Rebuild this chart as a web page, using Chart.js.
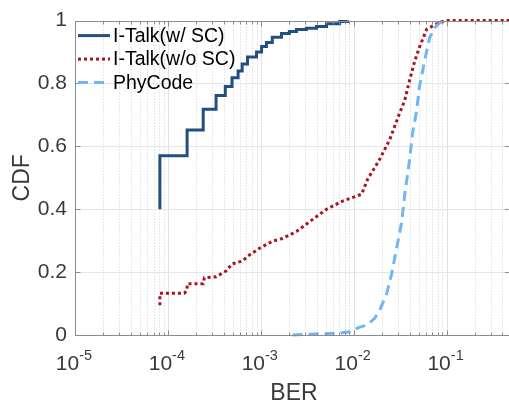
<!DOCTYPE html>
<html>
<head>
<meta charset="utf-8">
<script src="https://cdn.jsdelivr.net/npm/chart.js@4.4.1/dist/chart.umd.min.js"></script>
<style>
  html, body { margin: 0; padding: 0; background: #fff; }
</style>
</head>
<body>
<canvas id="cdfChart" width="509" height="403"></canvas>
<script>
const seriesNames = ['I-Talk(w/ SC)', 'I-Talk(w/o SC)', 'PhyCode'];

// I-Talk with SC (empirical CDF, step plot)
const berWithSC = [8.2e-5, 8.2e-5, 1.61e-4, 2.4e-4, 3.3e-4, 4.15e-4, 4.9e-4, 5.7e-4, 6.3e-4, 7.2e-4,
  9.0e-4, 1.02e-3, 1.15e-3, 1.33e-3, 1.67e-3, 2.03e-3, 2.42e-3, 3.1e-3, 3.98e-3, 5.1e-3, 7.05e-3, 8.6e-3];
const cdfWithSC = [0.40, 0.57, 0.652, 0.718, 0.762, 0.79, 0.818, 0.84, 0.862, 0.884,
  0.90, 0.918, 0.93, 0.947, 0.959, 0.965, 0.972, 0.976, 0.981, 0.99, 0.997, 1.0];

// I-Talk without SC
const berNoSC = [8.2e-5, 8.2e-5, 1.5e-4, 1.6e-4, 1.62e-4, 2.4e-4, 2.47e-4, 3.3e-4, 4.25e-4, 4.9e-4,
  6.3e-4, 7.5e-4, 9.7e-4, 1.33e-3, 1.71e-3, 2.42e-3, 3.34e-3, 5.1e-3, 7.6e-3, 1.22e-2,
  1.41e-2, 1.9e-2, 2.44e-2, 2.98e-2, 3.54e-2, 4.0e-2, 4.54e-2, 5.1e-2, 6.1e-2, 7.5e-2, 9.6e-2, 0.47];
const cdfNoSC = [0.095, 0.133, 0.133, 0.141, 0.163, 0.163, 0.182, 0.185, 0.204, 0.226,
  0.235, 0.254, 0.276, 0.298, 0.307, 0.329, 0.36, 0.40, 0.426, 0.448,
  0.495, 0.558, 0.621, 0.69, 0.746, 0.81, 0.871, 0.915, 0.972, 0.987, 1.0, 1.0];

// PhyCode
const berPhy = [2.2e-3, 3.98e-3, 7.05e-3, 9.0e-3, 1.16e-2, 1.38e-2, 1.68e-2, 1.9e-2, 2.26e-2, 2.56e-2,
  2.9e-2, 3.29e-2, 3.54e-2, 4.0e-2, 4.31e-2, 4.77e-2, 5.1e-2, 5.53e-2, 6.1e-2, 6.6e-2,
  7.5e-2, 8.45e-2, 9.6e-2];
const cdfPhy = [0, 0.003, 0.006, 0.01, 0.025, 0.031, 0.053, 0.078, 0.13, 0.194,
  0.276, 0.36, 0.445, 0.558, 0.643, 0.715, 0.79, 0.84, 0.903, 0.947,
  0.978, 0.994, 1.0];

const berTicks = [1e-5, 1e-4, 1e-3, 1e-2, 1e-1];
const cdfTicks = [0, 0.2, 0.4, 0.6, 0.8, 1];
const berRange = [1e-5, 0.47];

const FONT = '"Liberation Sans", Arial, Helvetica, sans-serif';
const AXIS_GRAY = '#8c8c8c';
const TEXT_GRAY = '#3a3a3a';

function toPoints(xs, ys) {
  return xs.map((x, i) => ({ x: x, y: ys[i] }));
}

function strokeLine(ctx, x1, y1, x2, y2) {
  ctx.beginPath();
  ctx.moveTo(x1, y1);
  ctx.lineTo(x2, y2);
  ctx.stroke();
}

// grid, box with inward ticks, 10^k labels, axis titles and legend
const matlabAxes = {
  id: 'matlabAxes',
  beforeDatasetsDraw(chart) {
    const { ctx, chartArea: a, scales: { x, y } } = chart;
    ctx.save();
    ctx.lineWidth = 1;
    for (let e = -5; e <= 0; e++) {
      for (let m = 1; m <= 9; m++) {
        const v = m * Math.pow(10, e);
        if (v < berRange[0] || v > berRange[1]) continue;
        const px = Math.round(x.getPixelForValue(v)) + 0.5;
        ctx.strokeStyle = m === 1 ? '#e2e2e2' : '#d0d0d0';
        ctx.setLineDash(m === 1 ? [] : [1, 2]);
        strokeLine(ctx, px, a.top, px, a.bottom);
      }
    }
    ctx.setLineDash([]);
    ctx.strokeStyle = '#e6e6e6';
    cdfTicks.forEach(v => {
      const py = Math.round(y.getPixelForValue(v)) + 0.5;
      strokeLine(ctx, a.left, py, a.right, py);
    });
    ctx.restore();
  },
  afterDatasetsDraw(chart) {
    const { ctx, chartArea: a, scales: { x, y } } = chart;
    ctx.save();

    // box and ticks
    ctx.strokeStyle = AXIS_GRAY;
    ctx.lineWidth = 1;
    const L = a.left + 0.5, B = Math.round(a.bottom) + 0.5, T = Math.round(a.top) + 0.5;
    strokeLine(ctx, L, T, a.right, T);
    strokeLine(ctx, L, T, L, B);
    strokeLine(ctx, L, B, a.right, B);
    for (let e = -5; e <= 0; e++) {
      for (let m = 1; m <= 9; m++) {
        const v = m * Math.pow(10, e);
        if (v < berRange[0] || v > berRange[1]) continue;
        const px = Math.round(x.getPixelForValue(v)) + 0.5;
        const len = m === 1 ? 5 : 3;
        strokeLine(ctx, px, B, px, B - len);
        strokeLine(ctx, px, T, px, T + len);
      }
    }
    cdfTicks.forEach(v => {
      const py = Math.round(y.getPixelForValue(v)) + 0.5;
      strokeLine(ctx, L, py, L + 5, py);
      strokeLine(ctx, a.right, py, a.right - 4, py);
    });

    // x tick labels as 10 with raised exponent
    ctx.fillStyle = TEXT_GRAY;
    ctx.textBaseline = 'alphabetic';
    ctx.textAlign = 'left';
    berTicks.forEach(v => {
      const exp = String(Math.round(Math.log10(v)));
      ctx.font = '21px ' + FONT;
      const wBase = ctx.measureText('10').width;
      ctx.font = '14.5px ' + FONT;
      const wExp = ctx.measureText(exp).width;
      const x0 = x.getPixelForValue(v) - (wBase + wExp) / 2 - 1;
      ctx.font = '21px ' + FONT;
      ctx.fillText('10', x0, a.bottom + 35);
      ctx.font = '14.5px ' + FONT;
      ctx.fillText(exp, x0 + wBase, a.bottom + 24.5);
    });

    // axis titles
    ctx.font = '23px ' + FONT;
    ctx.textAlign = 'center';
    ctx.fillText('BER', (a.left + a.right) / 2 + 2, a.bottom + 65);
    ctx.save();
    ctx.translate(29, (a.top + a.bottom) / 2);
    ctx.rotate(-Math.PI / 2);
    ctx.fillText('CDF', 0, 0);
    ctx.restore();

    // legend
    ctx.font = '19.5px ' + FONT;
    ctx.textAlign = 'left';
    ctx.textBaseline = 'middle';
    chart.data.datasets.forEach((ds, i) => {
      const ly = a.top + 15 + i * 23.5;
      ctx.strokeStyle = ds.borderColor;
      ctx.lineWidth = ds.borderWidth;
      ctx.setLineDash(ds.borderDash || []);
      strokeLine(ctx, a.left + 3, ly, a.left + 35, ly);
      ctx.setLineDash([]);
      ctx.fillStyle = '#000';
      ctx.fillText(ds.label, a.left + 38, ly + 1);
    });
    ctx.restore();
  }
};

new Chart(document.getElementById('cdfChart'), {
  type: 'line',
  data: {
    datasets: [
      {
        label: seriesNames[0],
        data: toPoints(berWithSC, cdfWithSC),
        borderColor: '#234f80',
        borderWidth: 3,
        stepped: true,
        order: 3
      },
      {
        label: seriesNames[1],
        data: toPoints(berNoSC, cdfNoSC),
        borderColor: '#a8131f',
        borderWidth: 3,
        borderDash: [3, 3],
        order: 2
      },
      {
        label: seriesNames[2],
        data: toPoints(berPhy, cdfPhy),
        borderColor: '#6fb5f7',
        borderWidth: 3,
        borderDash: [10, 6],
        order: 1
      }
    ]
  },
  options: {
    responsive: false,
    animation: false,
    devicePixelRatio: 1,
    layout: { padding: { top: 16, right: 0, left: 0, bottom: 0 } },
    elements: {
      point: { radius: 0 },
      line: { tension: 0, fill: false }
    },
    datasets: { line: { clip: 6 } },
    scales: {
      x: {
        type: 'logarithmic',
        min: berRange[0],
        max: berRange[1],
        grid: { display: false, drawTicks: false },
        border: { display: false },
        ticks: { display: false },
        afterFit: s => { s.height = 68; }
      },
      y: {
        type: 'linear',
        min: 0,
        max: 1,
        afterBuildTicks: s => { s.ticks = cdfTicks.map(v => ({ value: v })); },
        grid: { display: false, drawTicks: false },
        border: { display: false },
        ticks: {
          padding: 8,
          color: TEXT_GRAY,
          font: { family: FONT, size: 21 },
          callback: v => String(v)
        },
        afterFit: s => { s.width = 75; }
      }
    },
    plugins: {
      legend: { display: false },
      tooltip: { enabled: false }
    }
  },
  plugins: [matlabAxes]
});
</script>
</body>
</html>
